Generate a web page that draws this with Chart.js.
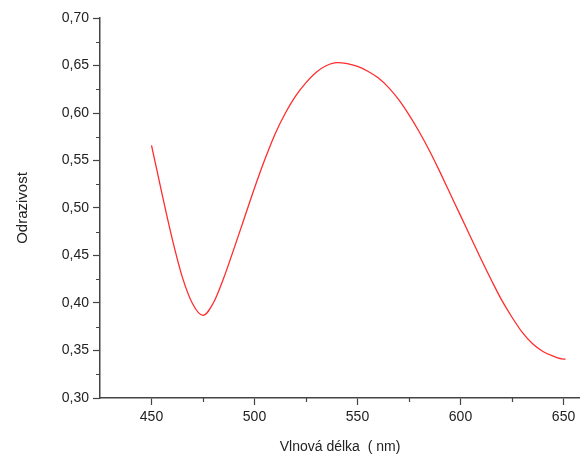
<!DOCTYPE html>
<html>
<head>
<meta charset="utf-8">
<script src="https://cdn.jsdelivr.net/npm/chart.js@4/dist/chart.umd.min.js"></script>
<style>
  html, body { margin: 0; padding: 0; background: #fff; }
  #wrap { width: 580px; height: 455px; position: relative; }
</style>
</head>
<body>
<div id="wrap"><canvas id="c"></canvas></div>
<script>
// Data
const wavelengths = [450,455,460,465,470,475,480,485,490,495,500,505,510,515,520,525,530,535,540,545,550,555,560,565,570,575,580,585,590,595,600,605,610,615,620,625,630,635,640,645,650,651];
const reflectance = [0.566,0.516,0.468,0.427,0.399,0.387,0.400,0.426,0.457,0.489,0.521,0.551,0.578,0.600,0.618,0.632,0.643,0.650,0.653,0.652,0.649,0.644,0.637,0.627,0.614,0.598,0.580,0.560,0.538,0.515,0.492,0.469,0.446,0.424,0.403,0.385,0.369,0.357,0.349,0.344,0.341,0.341];
const xTickValues = [450,500,550,600,650];
const xMinorTicks = [475,525,575,625];
const yTickValues = [0.30,0.35,0.40,0.45,0.50,0.55,0.60,0.65,0.70];
const yMinorTicks = [0.325,0.375,0.425,0.475,0.525,0.575,0.625,0.675];
const xTitle = 'Vlnová délka  ( nm)';
const yTitle = 'Odrazivost';

const FONT = "'Liberation Sans', Arial, sans-serif";
const AXIS = '#444';

const minorTicks = {
  id: 'minorTicks',
  afterDraw(chart) {
    const ctx = chart.ctx;
    const xs = chart.scales.x, ys = chart.scales.y;
    const area = chart.chartArea;
    ctx.save();
    ctx.strokeStyle = AXIS;
    ctx.lineWidth = 1.2;
    ctx.beginPath();
    xMinorTicks.forEach(v => {
      const px = Math.round(xs.getPixelForValue(v)) + 0.5;
      ctx.moveTo(px, area.bottom);
      ctx.lineTo(px, area.bottom + 4);
    });
    yMinorTicks.forEach(v => {
      const py = Math.round(ys.getPixelForValue(v)) + 0.5;
      ctx.moveTo(area.left, py);
      ctx.lineTo(area.left - 4, py);
    });
    ctx.stroke();
    ctx.restore();
  }
};

new Chart(document.getElementById('c'), {
  type: 'line',
  data: {
    datasets: [{
      data: wavelengths.map((w, i) => ({x: w, y: reflectance[i]})),
      borderColor: 'rgb(255,45,45)',
      borderWidth: 1.3,
      pointRadius: 0,
      cubicInterpolationMode: 'monotone',
      fill: false
    }]
  },
  options: {
    responsive: true,
    maintainAspectRatio: false,
    animation: false,
    devicePixelRatio: 1,
    layout: { padding: { top: 18, right: 0, left: 0, bottom: 0 } },
    plugins: { legend: { display: false }, tooltip: { enabled: false } },
    scales: {
      x: {
        type: 'linear',
        min: 425,
        max: 658,
        afterBuildTicks: s => { s.ticks = xTickValues.map(v => ({value: v})); },
        afterFit: s => { s.height = 57; },
        ticks: {
          color: '#222',
          font: { family: FONT, size: 14 },
          padding: 4,
          maxRotation: 0,
          callback: v => String(v)
        },
        grid: {
          display: true,
          drawOnChartArea: false,
          drawTicks: true,
          tickLength: 7,
          tickColor: AXIS,
          tickWidth: 1.2
        },
        border: { display: true, color: AXIS, width: 1.5 },
        title: {
          display: true,
          text: xTitle,
          color: '#222',
          font: { family: FONT, size: 14 },
          padding: { top: 0, bottom: -1 }
        }
      },
      y: {
        type: 'linear',
        min: 0.30,
        max: 0.70,
        afterBuildTicks: s => { s.ticks = yTickValues.map(v => ({value: v})); },
        afterFit: s => { s.width = 100; },
        ticks: {
          color: '#222',
          font: { family: FONT, size: 14 },
          padding: 4,
          callback: v => v.toFixed(2).replace('.', ',')
        },
        grid: {
          display: true,
          drawOnChartArea: false,
          drawTicks: true,
          tickLength: 7,
          tickColor: AXIS,
          tickWidth: 1.2
        },
        border: { display: true, color: AXIS, width: 1.5 },
        title: {
          display: true,
          text: yTitle,
          color: '#222',
          font: { family: FONT, size: 15 },
          padding: { top: 14, bottom: 0 }
        }
      }
    }
  },
  plugins: [minorTicks]
});
</script>
</body>
</html>
